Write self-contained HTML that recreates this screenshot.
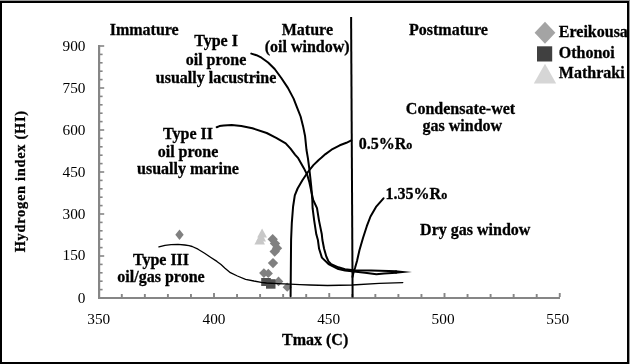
<!DOCTYPE html>
<html><head><meta charset="utf-8">
<style>
html,body{margin:0;padding:0;background:#fff;}
body{width:630px;height:364px;overflow:hidden;position:relative;}
svg{position:absolute;left:0;top:0;filter:blur(0.3px);}
text{font-family:"Liberation Serif",serif;}
.b{font-weight:bold;font-size:16px;fill:#000;stroke:#000;stroke-width:0.3px;}
.n{font-size:15.3px;fill:#000;}
</style></head><body>
<svg width="630" height="364" viewBox="0 0 630 364">
<rect x="0" y="0" width="630" height="364" fill="#fff"/>
<!-- border -->
<rect x="0" y="0" width="630" height="1" fill="#999"/>
<rect x="629" y="0" width="1" height="364" fill="#999"/>
<rect x="0" y="1" width="629" height="2" fill="#000"/>
<rect x="0" y="1" width="2" height="363" fill="#000"/>
<rect x="627" y="1" width="2" height="363" fill="#000"/>
<rect x="0" y="362" width="629" height="2" fill="#000"/>

<!-- axes -->
<g fill="#868686">
<rect x="98" y="45" width="2.2" height="254"/>
<rect x="98" y="297" width="462" height="2"/>
<rect x="100" y="297.20" width="4.2" height="1.6"/>
<rect x="100" y="288.80" width="2.6" height="1.6"/>
<rect x="100" y="280.40" width="2.6" height="1.6"/>
<rect x="100" y="272.00" width="2.6" height="1.6"/>
<rect x="100" y="263.60" width="2.6" height="1.6"/>
<rect x="100" y="255.20" width="4.2" height="1.6"/>
<rect x="100" y="246.80" width="2.6" height="1.6"/>
<rect x="100" y="238.40" width="2.6" height="1.6"/>
<rect x="100" y="230.00" width="2.6" height="1.6"/>
<rect x="100" y="221.60" width="2.6" height="1.6"/>
<rect x="100" y="213.20" width="4.2" height="1.6"/>
<rect x="100" y="204.80" width="2.6" height="1.6"/>
<rect x="100" y="196.40" width="2.6" height="1.6"/>
<rect x="100" y="188.00" width="2.6" height="1.6"/>
<rect x="100" y="179.60" width="2.6" height="1.6"/>
<rect x="100" y="171.20" width="4.2" height="1.6"/>
<rect x="100" y="162.80" width="2.6" height="1.6"/>
<rect x="100" y="154.40" width="2.6" height="1.6"/>
<rect x="100" y="146.00" width="2.6" height="1.6"/>
<rect x="100" y="137.60" width="2.6" height="1.6"/>
<rect x="100" y="129.20" width="4.2" height="1.6"/>
<rect x="100" y="120.80" width="2.6" height="1.6"/>
<rect x="100" y="112.40" width="2.6" height="1.6"/>
<rect x="100" y="104.00" width="2.6" height="1.6"/>
<rect x="100" y="95.60" width="2.6" height="1.6"/>
<rect x="100" y="87.20" width="4.2" height="1.6"/>
<rect x="100" y="78.80" width="2.6" height="1.6"/>
<rect x="100" y="70.40" width="2.6" height="1.6"/>
<rect x="100" y="62.00" width="2.6" height="1.6"/>
<rect x="100" y="53.60" width="2.6" height="1.6"/>
<rect x="100" y="45.20" width="4.2" height="1.6"/>
<rect x="120.85" y="294" width="1.9" height="3"/>
<rect x="143.90" y="294" width="1.9" height="3"/>
<rect x="166.95" y="294" width="1.9" height="3"/>
<rect x="190.00" y="294" width="1.9" height="3"/>
<rect x="213.05" y="293" width="1.9" height="4"/>
<rect x="236.10" y="294" width="1.9" height="3"/>
<rect x="259.15" y="294" width="1.9" height="3"/>
<rect x="282.20" y="294" width="1.9" height="3"/>
<rect x="305.25" y="294" width="1.9" height="3"/>
<rect x="328.30" y="293" width="1.9" height="4"/>
<rect x="351.35" y="294" width="1.9" height="3"/>
<rect x="374.40" y="294" width="1.9" height="3"/>
<rect x="397.45" y="294" width="1.9" height="3"/>
<rect x="420.50" y="294" width="1.9" height="3"/>
<rect x="443.55" y="293" width="1.9" height="4"/>
<rect x="466.60" y="294" width="1.9" height="3"/>
<rect x="489.65" y="294" width="1.9" height="3"/>
<rect x="512.70" y="294" width="1.9" height="3"/>
<rect x="535.75" y="294" width="1.9" height="3"/>
<rect x="558.80" y="293" width="1.9" height="4"/>
</g>

<!-- data markers -->
<g fill="#808080">
<path d="M179.5 229.50 L183.70 234.7 L179.5 239.90 L175.30 234.7Z"/>
<path d="M272.7 234.10 L277.90 239.3 L272.7 244.50 L267.50 239.3Z"/>
<path d="M275 238.30 L280.20 243.5 L275 248.70 L269.80 243.5Z"/>
<path d="M277 243.10 L282.20 248.3 L277 253.50 L271.80 248.3Z"/>
<path d="M274.7 246.40 L279.90 251.6 L274.7 256.80 L269.50 251.6Z"/>
<path d="M273 257.90 L278.20 263.1 L273 268.30 L267.80 263.1Z"/>
<path d="M263.9 268.30 L268.70 273.1 L263.9 277.90 L259.10 273.1Z"/>
<path d="M268.3 268.80 L272.90 273.4 L268.3 278.00 L263.70 273.4Z"/>
<path d="M278.5 276.60 L283.30 281.4 L278.5 286.20 L273.70 281.4Z"/>
<path d="M287.2 282.60 L291.80 287.2 L287.2 291.80 L282.60 287.2Z"/>
</g>
<g fill="#c8c8c8">
<path d="M262.1 228.6 L267.0 237.6 L257.2 237.6Z"/>
<path d="M261.2 232.3 L266.0 241.6 L256.2 241.6Z"/>
<path d="M259.7 234.9 L265.0 244.4 L254.4 244.4Z"/>
</g>
<g fill="#505050">
<rect x="261.2" y="278" width="9.6" height="8"/>
<rect x="266" y="279.2" width="9.5" height="9.5"/>
</g>

<!-- curves -->
<g fill="none" stroke="#000" stroke-linejoin="round" stroke-linecap="round">
<!-- vertical Tmax 460 line -->
<path d="M351.1 17 L352.6 297.5" stroke-width="2" stroke-linecap="butt"/>
<!-- Type I -->
<path stroke-width="2" d="M251.3 53.6 L256.5 55.2 L261.5 57.7 L268.1 62.5 L274.7 69 L281.3 78 L287.9 87.9 L293.6 98.6 L297.3 108.2 L300.6 116.5 L303.1 126.4 L305.1 136.3 L306.5 150 L307.9 158.2 L309.2 167.9 L310.3 177.5 L311.3 187.1 L312.3 200 L312.6 208.2 L314.2 220.6 L316.3 234.3 L317.9 240 L319.1 248.8 L321.9 257.6 L328.5 264 L338.4 269.1 L345 270.4 L353.8 271.4 L365 272.8 L376.4 274.2 L384 273.5 L396 272.7"/>
<!-- Type II -->
<path stroke-width="2" d="M216.7 127.2 L219.5 126.1 L223.8 125.4 L231.7 125.1 L241.3 125.9 L252.4 128.3 L266.7 133 L276.2 137.8 L285.7 143.3 L290.5 148.7 L295 154.6 L298.2 158.2 L303.7 167.9 L307.2 174.7 L309.2 181.6 L311.3 191.2 L313.2 200 L317 208.2 L319 220.6 L321.8 234.3 L322.4 240 L324.1 248.8 L326.3 256.5 L328.5 261.4 L331.2 264.2 L338.4 267.3 L345 269.2 L353.8 270.3 L371 270.5 L388.6 271 L396 271.3"/>
<path d="M395.5 270.3 L412 272 L395.5 273.7Z" fill="#000" stroke="none"/>
<!-- 0.5% Ro -->
<path stroke-width="2" d="M290.6 296.3 L291 250 L291.1 239.5 L291.8 223 L293.1 206.5 L294.1 200 L294.8 195.4 L297.6 188.5 L302.4 180.2 L307.9 172 L313.4 165.1 L318.7 160 L321.6 157.6 L325.5 154.1 L331.5 149.7 L339.8 145.3 L346.4 142.8 L351.3 140.4"/>
<!-- 1.35% Ro -->
<path stroke-width="2" d="M352.5 277 L353.4 273 L355 268 L357 261 L359.5 250 L363 238 L366.8 226.2 L370.5 216.5 L376 206.9 L383.5 198.3"/>
<!-- Type III -->
<path stroke-width="1.3" d="M158.9 246.8 L165 245.3 L171.1 244.6 L178 244.4 L184.8 245 L189 245.7 L192.2 246.5 L198 249.2 L204.6 253.2 L210.5 257.2 L216.9 261.4 L221 264.5 L225 268.2 L230.4 272.7 L237.4 276 L245.6 279.3 L253.9 281 L261.3 282.3 L266.5 283 L278 283.7 L290 284.2 L300 284.7 L310 285 L327.5 285.5 L352 285 L379.2 283.4 L402.8 282.6"/>
</g>

<!-- legend -->
<path d="M545 21.7 L555.4 32.7 L545 43.8 L534.6 32.7Z" fill="#a4a4a4"/>
<rect x="537" y="46.3" width="15.2" height="15.2" fill="#404040"/>
<path d="M545 63.8 L556.2 83.6 L533.8 83.6Z" fill="#d6d6d6"/>
<text class="b" x="558.8" y="36.5">Ereikousa</text>
<text class="b" x="558.8" y="57.7">Othonoi</text>
<text class="b" x="558.8" y="78">Mathraki</text>

<!-- labels -->
<text class="b" x="109.7" y="34.6">Immature</text>
<text class="b" x="307.4" y="34.6" text-anchor="middle">Mature</text>
<text class="b" x="307.2" y="51.9" text-anchor="middle">(oil window)</text>
<text class="b" x="409" y="35.1">Postmature</text>
<text class="b" x="216" y="46.4" text-anchor="middle">Type I</text>
<text class="b" x="216" y="64.5" text-anchor="middle">oil prone</text>
<text class="b" x="216" y="82.7" text-anchor="middle">usually lacustrine</text>
<text class="b" x="188" y="139.1" text-anchor="middle">Type II</text>
<text class="b" x="188" y="157.3" text-anchor="middle">oil prone</text>
<text class="b" x="188" y="174.3" text-anchor="middle">usually marine</text>
<text class="b" x="161" y="264.6" text-anchor="middle">Type III</text>
<text class="b" x="161" y="282.3" text-anchor="middle">oil/gas prone</text>
<text class="b" x="460.5" y="114" text-anchor="middle">Condensate-wet</text>
<text class="b" x="462.3" y="130.7" text-anchor="middle">gas window</text>
<text class="b" x="358.8" y="148.5">0.5%R<tspan font-size="12px">o</tspan></text>
<text class="b" x="385.6" y="198.5">1.35%R<tspan font-size="12px">o</tspan></text>
<text class="b" x="420.1" y="235.4">Dry gas window</text>
<text class="b" x="282" y="344.6">Tmax (C)</text>
<text class="b" transform="translate(24.8 252.3) rotate(-90) scale(0.9 0.87)" letter-spacing="0.8">Hydrogen index (HI)</text>

<!-- y tick labels -->
<g class="n" text-anchor="end">
<text x="85.5" y="51.3">900</text>
<text x="85.5" y="93.3">750</text>
<text x="85.5" y="135.3">600</text>
<text x="85.5" y="176.5">450</text>
<text x="85.5" y="218.7">300</text>
<text x="85.5" y="260.3">150</text>
<text x="85.5" y="302.8">0</text>
</g>
<g class="n" text-anchor="middle">
<text x="98.75" y="323.5">350</text>
<text x="214" y="323.5">400</text>
<text x="328.7" y="323.5">450</text>
<text x="443.1" y="323.5">500</text>
<text x="557.8" y="323.5">550</text>
</g>
</svg>
</body></html>
